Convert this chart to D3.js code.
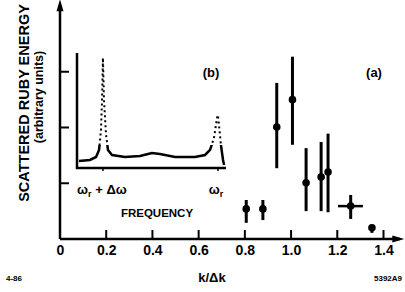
<!DOCTYPE html>
<html lang="en">
<head>
<meta charset="UTF-8">
<title>Scattered ruby energy</title>
<script src="https://cdn.jsdelivr.net/npm/d3@7/dist/d3.min.js"></script>
<style>
body { margin: 0; background: #fff; }
svg text { font-family: "Liberation Sans", Arial, sans-serif; font-weight: bold; fill: #000; }
</style>
</head>
<body>
<div id="chart"></div>
<script>
// main panel (a): k/dk, energy, error bars
var kVals   = [0.806, 0.878, 0.938, 1.006, 1.065, 1.13, 1.16, 1.258, 1.35];
var eVals   = [0.54, 0.54, 2.01, 2.50, 1.01, 1.11, 1.20, 0.59, 0.20];
var eLow    = [0.29, 0.34, 1.27, 1.69, 0.50, 0.50, 0.48, 0.36, 0.11];
var eHigh   = [0.70, 0.70, 2.80, 3.27, 1.63, 1.74, 1.89, 0.79, 0.25];
var kLow    = [null, null, null, null, null, null, null, 1.203, null];
var kHigh   = [null, null, null, null, null, null, null, 1.311, null];
var xTicks  = [0, 0.2, 0.4, 0.6, 0.8, 1.0, 1.2, 1.4];
var xTickLabels = ["0", "0.2", "0.4", "0.6", "0.8", "1.0", "1.2", "1.4"];
var yTicks  = [1, 2, 3];

// inset panel (b): spectrum, frequency vs intensity
var freq = [0.013, 0.087, 0.128, 0.148, 0.161, 0.168, 0.174, 0.181, 0.195, 0.208, 0.235, 0.322,
            0.423, 0.503, 0.557, 0.658, 0.792, 0.859, 0.893, 0.919, 0.940, 0.946, 0.953, 0.966, 0.980, 0.987];
var inten = [0.061, 0.070, 0.096, 0.157, 0.330, 0.591, 0.957, 0.591, 0.287, 0.157, 0.113, 0.096,
             0.104, 0.130, 0.122, 0.096, 0.096, 0.113, 0.157, 0.261, 0.435, 0.461, 0.374, 0.200, 0.070, 0.026];
var peakFreq = [0.174, 0.946];

var width = 405, height = 292;
var svg = d3.select("#chart").append("svg")
    .attr("width", width).attr("height", height);

var x = d3.scaleLinear().domain([0, 1.4]).range([60, 383.5]);
var y = d3.scaleLinear().domain([0, 4]).range([239, 16]);

// axes lines with arrows
svg.append("line")
    .attr("x1", x(0)).attr("x2", x(1.47))
    .attr("y1", y(0)).attr("y2", y(0))
    .attr("stroke", "#000").attr("stroke-width", 2.5);
svg.append("path")
    .attr("d", "M" + x(1.49) + "," + y(0) + " l-12,-3.5 l0,7 z")
    .attr("fill", "#000");
svg.append("line")
    .attr("x1", x(0)).attr("x2", x(0))
    .attr("y1", y(0)).attr("y2", y(4.1))
    .attr("stroke", "#000").attr("stroke-width", 2.5);
svg.append("path")
    .attr("d", "M" + x(0) + "," + y(4.3) + " l-3.5,12 l7,0 z")
    .attr("fill", "#000");

// x tick labels
var xAxis = d3.axisBottom(x)
    .tickValues(xTicks)
    .tickSize(0)
    .tickPadding(6)
    .tickFormat(function(d, i) { return xTickLabels[i]; });
var gx = svg.append("g")
    .attr("transform", "translate(0," + y(0) + ")")
    .call(xAxis);
gx.select(".domain").remove();
gx.selectAll("text").attr("font-size", "14px").attr("font-weight", "bold")
    .attr("font-family", "Liberation Sans, Arial, sans-serif");

// inward ticks
svg.selectAll(".xtick").data(xTicks.slice(1)).enter().append("line")
    .attr("x1", function(d) { return x(d); }).attr("x2", function(d) { return x(d); })
    .attr("y1", y(0)).attr("y2", y(0) - 9)
    .attr("stroke", "#000").attr("stroke-width", 2);
svg.selectAll(".ytick").data(yTicks).enter().append("line")
    .attr("x1", x(0)).attr("x2", x(0) + 9)
    .attr("y1", function(d) { return y(d); }).attr("y2", function(d) { return y(d); })
    .attr("stroke", "#000").attr("stroke-width", 2);

// error bars
svg.selectAll(".ebar").data(kVals).enter().append("line")
    .attr("x1", function(d) { return x(d); }).attr("x2", function(d) { return x(d); })
    .attr("y1", function(d, i) { return y(eLow[i]); })
    .attr("y2", function(d, i) { return y(eHigh[i]); })
    .attr("stroke", "#000").attr("stroke-width", 3);
svg.selectAll(".hbar").data(kVals.filter(function(d, i) { return kLow[i] != null; })).enter().append("line")
    .attr("x1", function(d) { return x(kLow[kVals.indexOf(d)]); })
    .attr("x2", function(d) { return x(kHigh[kVals.indexOf(d)]); })
    .attr("y1", function(d) { return y(eVals[kVals.indexOf(d)]); })
    .attr("y2", function(d) { return y(eVals[kVals.indexOf(d)]); })
    .attr("stroke", "#000").attr("stroke-width", 2.5);
svg.selectAll(".pt").data(kVals).enter().append("circle")
    .attr("cx", function(d) { return x(d); })
    .attr("cy", function(d, i) { return y(eVals[i]); })
    .attr("r", 3.8)
    .attr("fill", "#000");

// inset (b)
var fx = d3.scaleLinear().domain([0, 1]).range([77, 226]);
var fy = d3.scaleLinear().domain([0, 1]).range([168, 53]);
svg.append("path")
    .attr("d", "M" + fx(0) + "," + fy(1) + " L" + fx(0) + "," + fy(0) + " L" + fx(1) + "," + fy(0))
    .attr("fill", "none").attr("stroke", "#000").attr("stroke-width", 2.5);
svg.selectAll(".ftick").data(peakFreq).enter().append("line")
    .attr("x1", function(d) { return fx(d); }).attr("x2", function(d) { return fx(d); })
    .attr("y1", fy(0)).attr("y2", fy(0) + 3)
    .attr("stroke", "#000").attr("stroke-width", 1.5);

var specLine = d3.line()
    .x(function(d, i) { return fx(freq[i]); })
    .y(function(d) { return fy(d); });
var defs = svg.append("defs");
defs.append("clipPath").attr("id", "lowClip").append("rect")
    .attr("x", 0).attr("y", fy(0.2)).attr("width", width).attr("height", height);
defs.append("clipPath").attr("id", "highClip").append("rect")
    .attr("x", 0).attr("y", 0).attr("width", width).attr("height", fy(0.2));
svg.append("path").datum(inten)
    .attr("d", specLine)
    .attr("clip-path", "url(#lowClip)")
    .attr("fill", "none").attr("stroke", "#000").attr("stroke-width", 2.5);
svg.append("path").datum(inten)
    .attr("d", specLine)
    .attr("clip-path", "url(#highClip)")
    .attr("fill", "none").attr("stroke", "#000").attr("stroke-width", 2)
    .attr("stroke-dasharray", "2,3");

// inset labels
var lbl1 = svg.append("text").attr("x", fx(peakFreq[0]) - 1).attr("y", 194)
    .attr("text-anchor", "middle").attr("font-size", "13px");
lbl1.append("tspan").text("\u03c9");
lbl1.append("tspan").attr("font-size", "9px").attr("dy", 3).text("r");
lbl1.append("tspan").attr("dy", -3).text(" + \u0394\u03c9");
var lbl2 = svg.append("text").attr("x", fx(peakFreq[1]) - 2).attr("y", 194)
    .attr("text-anchor", "middle").attr("font-size", "13px");
lbl2.append("tspan").text("\u03c9");
lbl2.append("tspan").attr("font-size", "9px").attr("dy", 3).text("r");
svg.append("text").attr("x", 157).attr("y", 217)
    .attr("text-anchor", "middle").attr("font-size", "11.5px").text("FREQUENCY");

svg.append("text").attr("x", 211).attr("y", 77)
    .attr("text-anchor", "middle").attr("font-size", "13px").text("(b)");
svg.append("text").attr("x", 374).attr("y", 77)
    .attr("text-anchor", "middle").attr("font-size", "13px").text("(a)");

// axis titles
svg.append("text")
    .attr("transform", "translate(29,103) rotate(-90)")
    .attr("text-anchor", "middle").attr("font-size", "14.5px")
    .text("SCATTERED RUBY ENERGY");
svg.append("text")
    .attr("transform", "translate(43,97) rotate(-90)")
    .attr("text-anchor", "middle").attr("font-size", "12.5px")
    .text("(arbitrary units)");
svg.append("text").attr("x", 212).attr("y", 282)
    .attr("text-anchor", "middle").attr("font-size", "13px").text("k/\u0394k");
svg.append("text").attr("x", 14).attr("y", 281)
    .attr("text-anchor", "middle").attr("font-size", "8px").text("4-86");
svg.append("text").attr("x", 388).attr("y", 281)
    .attr("text-anchor", "middle").attr("font-size", "8px").text("5392A9");
</script>
</body>
</html>
